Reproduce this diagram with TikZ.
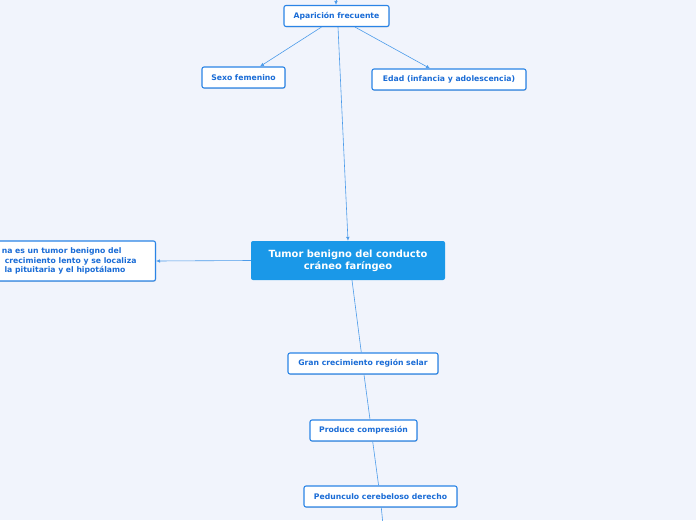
\documentclass[tikz,border=0pt]{standalone}
\usepackage{fontspec}
\setmainfont{DejaVu Sans}
\usetikzlibrary{arrows.meta,shadows}
\definecolor{bgc}{HTML}{F1F4FC}
\definecolor{boxc}{HTML}{2A84E6}
\definecolor{txtc}{HTML}{1A6CD6}
\definecolor{linec}{HTML}{4C9BEA}
\definecolor{mainc}{HTML}{1A98E8}
\tikzset{
  sub/.style={draw=boxc, line width=1.1pt, fill=white, rounded corners=2pt, text=txtc,
    font=\fontsize{7.7}{9}\selectfont\bfseries, inner sep=0pt, minimum height=21pt,
    drop shadow={shadow xshift=0.6pt, shadow yshift=-0.8pt, opacity=0.25}},
  mainbox/.style={fill=mainc, rounded corners=2pt, text=white, align=center,
    font=\fontsize{9.9}{12}\selectfont\bfseries, minimum width=194pt, minimum height=39pt, inner sep=0pt},
  conn/.style={draw=linec, line width=0.6pt},
  arr/.style={conn, -{Latex[length=4pt,width=3.5pt]}}
}
\begin{document}
\begin{tikzpicture}[x=1pt,y=-1pt]
\useasboundingbox[fill=bgc] (0,0) rectangle (696,520);
\coordinate (topin) at (336,-5);
\coordinate (botout) at (383,525);
\node[sub, minimum width=105pt] (apar) at (336.5,16) {Aparición frecuente};
\node[sub, minimum width=83pt] (sexo) at (243.5,77.5) {Sexo femenino};
\node[sub, minimum width=154pt] (edad) at (449,79.5) {Edad (infancia y adolescencia)};
\node[mainbox] (tumor) at (348,260.5) {Tumor benigno del conducto\\cráneo faríngeo};
\node[sub, anchor=east, align=right, minimum height=40pt, inner xsep=19pt, inner ysep=0pt,
  font=\fontsize{7.7}{9.6}\selectfont\bfseries] (def) at (156,261)
  {na es un tumor benigno del\hspace*{15pt}\\crecimiento lento y se localiza\\la pituitaria y el hipotálamo\hspace*{11pt}};
\node[sub, minimum width=150pt] (gran) at (363,363.5) {Gran crecimiento región selar};
\node[sub, minimum width=107pt] (prod) at (363.5,430.5) {Produce compresión};
\node[sub, minimum width=153pt] (ped) at (380.5,496.5) {Pedunculo cerebeloso derecho};
\draw[arr] (topin) -- (apar.north -| topin);
\draw[arr] ([xshift=-15pt]apar.south) -- ([xshift=16.5pt]sexo.north);
\draw[arr] ([xshift=18.5pt]apar.south) -- ([xshift=-19pt]edad.north);
\draw[arr] ([xshift=1.5pt]apar.south) -- (tumor.north);
\draw[arr] (tumor.west) -- (def.east);
\draw[conn] ([xshift=4pt]tumor.south) -- ([xshift=-1.7pt]gran.north);
\draw[conn] ([xshift=1pt]gran.south) -- ([xshift=6.5pt]prod.north);
\draw[conn] ([xshift=9.2pt]prod.south) -- ([xshift=-1.9pt]ped.north);
\draw[conn] ([xshift=0.8pt]ped.south) -- (botout);
\end{tikzpicture}
\end{document}
